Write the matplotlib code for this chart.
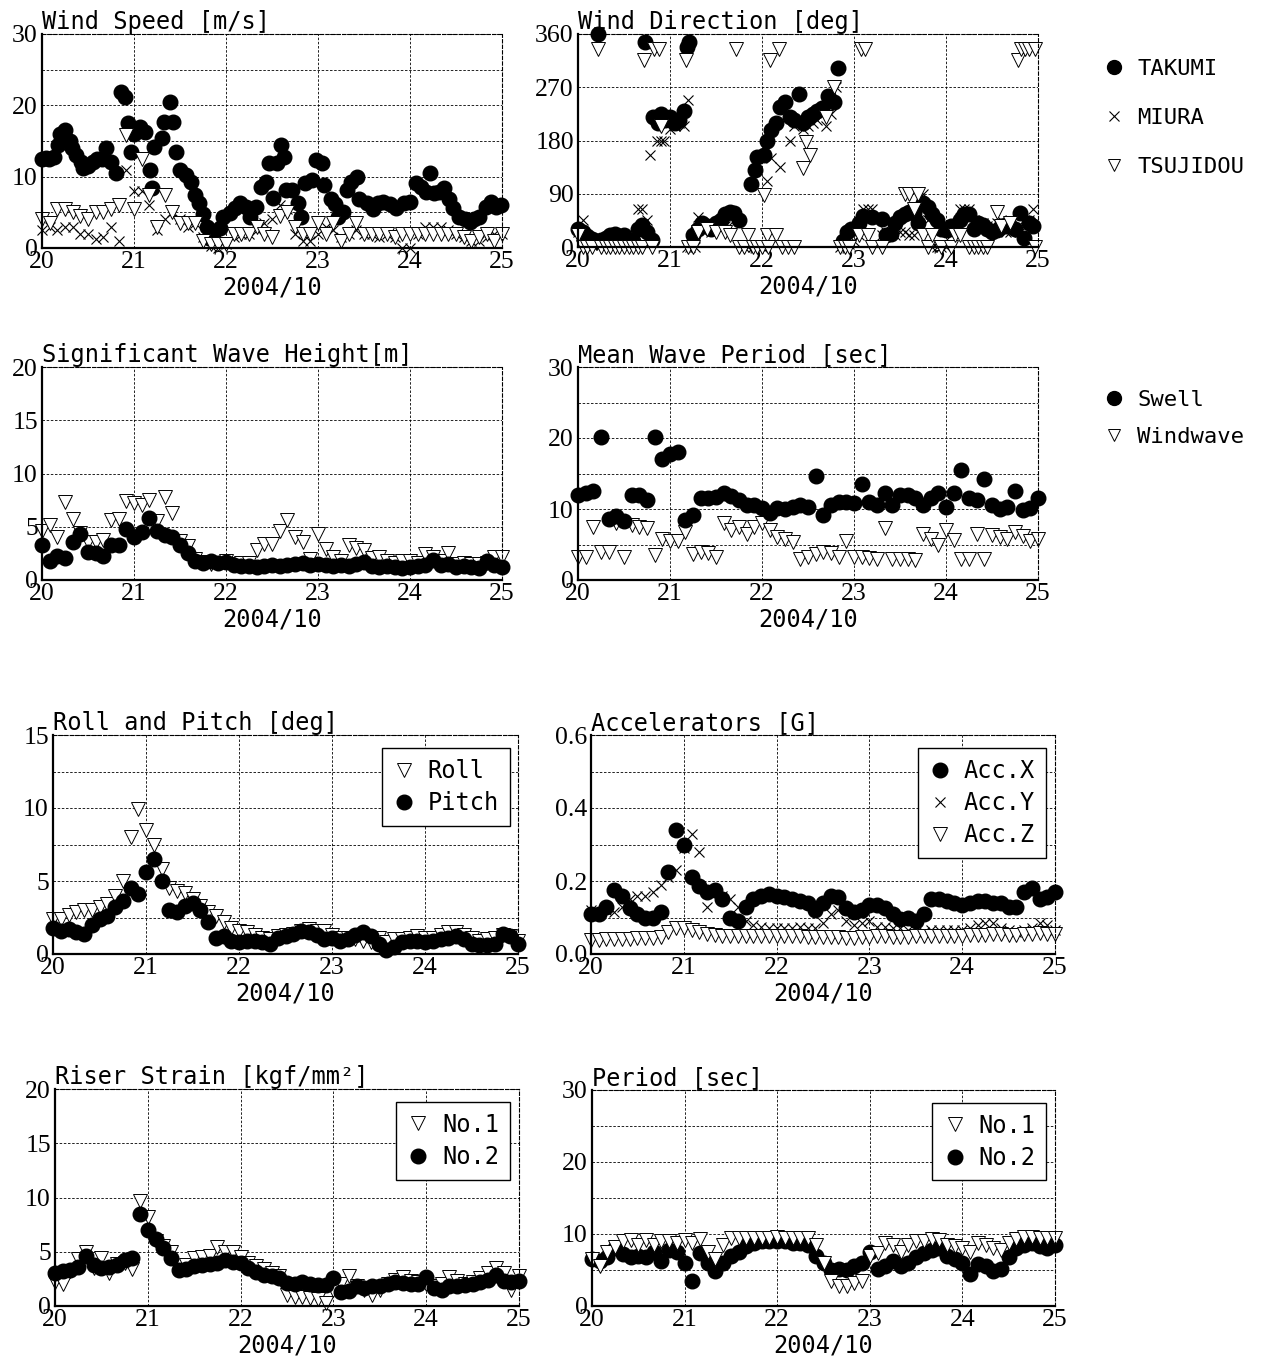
"""Ocean / mooring monitoring panels, 2004/10/20-25"""
import numpy as np
import matplotlib
matplotlib.use('Agg')
import matplotlib.pyplot as plt
from matplotlib.lines import Line2D
from matplotlib.ticker import FormatStrFormatter

plt.rcParams['font.family'] = ['Liberation Serif', 'DejaVu Serif']
MONO = 'DejaVu Sans Mono'
W, H = 1263, 1360

# time grid, every 2 hours (day of month)
t2 = 20 + np.arange(61) / 12

# ---- Wind speed [m/s]
ws_takumi_t = [20.0, 20.04, 20.08, 20.13, 20.17, 20.2, 20.25, 20.3, 20.33, 20.37, 20.42, 20.45, 20.5,
               20.55, 20.6, 20.65, 20.7, 20.75, 20.8, 20.86, 20.9, 20.93, 20.97, 21.0, 21.06, 21.12,
               21.17, 21.2, 21.22, 21.3, 21.33, 21.39, 21.42, 21.46, 21.5, 21.57, 21.62, 21.66, 21.71,
               21.75, 21.79, 21.82, 21.86, 21.93, 21.97, 22.04, 22.1, 22.15, 22.22, 22.26, 22.33, 22.38,
               22.44, 22.47, 22.51, 22.55, 22.6, 22.63, 22.65, 22.72, 22.78, 22.82, 22.86, 22.93, 22.98,
               23.04, 23.07, 23.14, 23.18, 23.22, 23.27, 23.31, 23.36, 23.42, 23.45, 23.53, 23.6, 23.65,
               23.71, 23.78, 23.85, 23.93, 24.0, 24.07, 24.12, 24.17, 24.22, 24.26, 24.31, 24.37, 24.42,
               24.47, 24.53, 24.6, 24.65, 24.7, 24.75, 24.83, 24.88, 24.94, 24.99]
ws_takumi = [12.5, 12.6, 12.5, 12.7, 14.5, 16, 16.5, 15, 14, 13, 12, 11.2, 11.5, 12, 12.5, 12.5, 14, 12,
             10.5, 21.8, 21.2, 17.5, 13.5, 16, 17, 16.3, 11, 8.4, 14.2, 15.4, 17.7, 20.5, 17.7, 13.5, 11,
             10.2, 9.3, 7.5, 6.3, 4.7, 3, 1.4, 1.9, 2.8, 4.4, 4.9, 5.6, 6.3, 5.8, 4.4, 5.8, 8.6, 9.3, 11.9,
             7, 11.9, 14.4, 12.8, 8.2, 8.2, 6.3, 4.4, 9.1, 9.5, 12.3, 11.9, 8.8, 6.8, 6.1, 4.4, 5.1, 8.2,
             9.3, 10, 6.8, 6.3, 5.4, 6.3, 6.5, 6.1, 5.6, 6.3, 6.5, 9.1, 8.6, 7.9, 10.5, 7.7, 7.9, 8.4, 6.8,
             5.6, 4.4, 4, 3.7, 4, 4.4, 5.8, 6.5, 5.8, 6]
ws_miura = [2.5, 3, 2.5, 3, 3, 2, 2, 1.2, 1.5, 3, 1, 11, 8, 8, 6, 2.5, 4, 5, 4, 3,
            3.5, 1.5, 0.3, 0, 0.5, 1.5, 2, 2, 2.5, 3.5, 4, 6, 5.5, 2, 1, 1, 2, 3, 2.5, 1.5,
            2, 2.5, 2, 2, 1.5, 2, 1.5, 0, 0, 2, 3, 3, 3, 2.5, 2, 1.5, 1, 1, 1.5, 2, 2]
ws_tsujidou = [4, 3.5, 5.5, 5.5, 5, 4.5, 4, 5, 5, 5.5, 6, 15.8, 5.5, 12.5, 7.5, 3, 7.5, 5, 3.5, 3.5,
               3.5, 1, 0.5, 0.5, 0.5, 2, 2, 2, 3, 2, 1.5, 4.5, 5, 3, 2, 2, 3.5, 2, 3.5, 1,
               2, 3.5, 2, 2, 2, 2, 1.5, 2, 2, 2, 2, 2, 2, 2, 2, 1.5, 1, 1.5, 2, 1, 2]

# ---- Wind direction [deg], (day, deg)
wd_takumi = [(20.0, 30), (20.05, 25), (20.1, 18), (20.15, 13), (20.2, 10), (20.25, 12), (20.3, 15),
             (20.35, 20), (20.4, 22), (20.45, 18), (20.5, 20), (20.55, 12), (20.6, 10), (20.65, 30),
             (20.7, 38), (20.75, 25), (20.8, 12), (20.22, 360), (20.73, 346), (20.82, 220), (20.87, 210),
             (20.9, 225), (20.95, 215), (21.0, 220), (21.05, 210), (21.1, 215), (21.15, 230),
             (21.18, 338), (21.21, 346), (21.25, 20), (21.3, 30), (21.35, 40), (21.4, 35), (21.45, 30),
             (21.5, 40), (21.55, 45), (21.6, 55), (21.65, 60), (21.7, 58), (21.75, 45), (21.88, 107),
             (21.92, 130), (21.95, 152), (22.02, 155), (22.05, 180), (22.1, 198), (22.15, 209),
             (22.2, 237), (22.25, 245), (22.3, 220), (22.35, 215), (22.4, 259), (22.45, 210), (22.5, 220),
             (22.55, 225), (22.6, 230), (22.65, 235), (22.72, 255), (22.78, 245), (22.83, 302),
             (22.88, 10), (22.92, 25), (22.97, 30), (23.05, 40), (23.1, 52), (23.2, 50), (23.3, 48),
             (23.35, 20), (23.4, 22), (23.45, 40), (23.5, 50), (23.55, 55), (23.6, 60), (23.65, 58),
             (23.7, 40), (23.75, 75), (23.8, 68), (23.85, 55), (23.9, 45), (23.95, 30), (24.0, 28),
             (24.05, 35), (24.1, 30), (24.15, 45), (24.2, 55), (24.25, 55), (24.3, 30), (24.35, 40),
             (24.4, 38), (24.45, 30), (24.5, 25), (24.55, 28), (24.6, 35), (24.65, 35), (24.7, 35),
             (24.75, 30), (24.8, 57), (24.85, 15), (24.9, 40), (24.95, 35)]
wd_miura = [(20.0, 25), (20.05, 45), (20.1, 5), (20.15, 3), (20.2, 5), (20.25, 3), (20.3, 2), (20.35, 3),
            (20.4, 5), (20.45, 3), (20.5, 2), (20.55, 3), (20.6, 5), (20.65, 65), (20.7, 65), (20.75, 45),
            (20.78, 155), (20.86, 180), (20.9, 180), (20.93, 180), (21.0, 200), (21.05, 205),
            (21.1, 210), (21.15, 205), (21.2, 248), (21.18, 0), (21.22, 0), (21.27, 0), (21.3, 50),
            (21.35, 35), (21.4, 30), (21.45, 25), (21.5, 40), (21.55, 30), (21.6, 35), (21.65, 60),
            (21.7, 45), (21.8, 0), (21.85, 0), (21.9, 0), (21.95, 0), (22.0, 0), (22.05, 112),
            (22.1, 150), (22.2, 135), (22.3, 180), (22.35, 205), (22.45, 200), (22.5, 205), (22.55, 210),
            (22.6, 215), (22.7, 205), (22.75, 225), (22.8, 270), (22.85, 0), (22.95, 5), (23.0, 10),
            (23.05, 20), (23.1, 65), (23.15, 65), (23.2, 65), (23.25, 50), (23.3, 20), (23.35, 25),
            (23.4, 40), (23.45, 20), (23.5, 25), (23.55, 25), (23.6, 20), (23.65, 20), (23.7, 45),
            (23.75, 90), (23.8, 45), (23.85, 0), (23.9, 0), (23.95, 0), (24.0, 0), (24.05, 20),
            (24.1, 25), (24.15, 65), (24.2, 65), (24.25, 65), (24.3, 45), (24.35, 30), (24.4, 40),
            (24.45, 35), (24.5, 30), (24.55, 40), (24.6, 45), (24.65, 25), (24.7, 25), (24.75, 30),
            (24.8, 25), (24.85, 45), (24.9, 45), (24.95, 65)]
wd_tsujidou = [(20.0, 20), (20.05, 0), (20.1, 0), (20.15, 0), (20.22, 335), (20.25, 0), (20.3, 0),
               (20.35, 0), (20.4, 0), (20.45, 0), (20.5, 0), (20.55, 0), (20.6, 0), (20.65, 0),
               (20.72, 316), (20.7, 0), (20.8, 0), (20.83, 335), (20.88, 335), (20.9, 205), (21.17, 316),
               (21.2, 0), (21.25, 0), (21.3, 25), (21.4, 30), (21.5, 25), (21.6, 25), (21.65, 20),
               (21.72, 335), (21.75, 0), (21.8, 0), (21.85, 20), (21.9, 0), (21.95, 0), (22.0, 0),
               (22.02, 88), (22.05, 20), (22.07, 0), (22.09, 316), (22.15, 20), (22.18, 335), (22.22, 0),
               (22.28, 0), (22.35, 0), (22.45, 133), (22.48, 178), (22.52, 155), (22.7, 220), (22.78, 270),
               (22.85, 0), (22.9, 0), (22.95, 0), (23.05, 20), (23.08, 335), (23.12, 335), (23.15, 20),
               (23.2, 0), (23.3, 0), (23.55, 90), (23.6, 90), (23.65, 65), (23.7, 90), (23.75, 20),
               (23.8, 0), (23.85, 20), (23.95, 0), (24.05, 0), (24.1, 20), (24.15, 20), (24.25, 0),
               (24.3, 0), (24.35, 0), (24.4, 0), (24.45, 0), (24.55, 60), (24.6, 35), (24.7, 40),
               (24.78, 316), (24.82, 335), (24.86, 335), (24.9, 335), (24.97, 335), (24.97, 0)]

# ---- Significant wave height [m]
swh_swell = [3.3, 1.8, 2.3, 2.1, 3.6, 4.3, 2.6, 2.5, 2.3, 3.3, 3.3, 4.8, 4.0, 4.5, 5.8, 4.6, 4.2, 4.0,
             3.3, 2.5, 1.8, 1.6, 1.8, 1.6, 1.7, 1.4, 1.3, 1.3, 1.2, 1.3, 1.4, 1.3, 1.4, 1.5, 1.6, 1.4,
             1.5, 1.4, 1.3, 1.4, 1.3, 1.5, 1.7, 1.3, 1.2, 1.3, 1.2, 1.1, 1.2, 1.3, 1.4, 1.9, 1.4, 1.5,
             1.2, 1.3, 1.2, 1.1, 1.8, 1.4, 1.2]
swh_windwave = [4.6, 5.2, 4.0, 7.3, 5.7, 4.4, 3.6, 3.6, 3.8, 5.6, 5.7, 7.4, 7.2, 7.0, 7.5, 5.5, 7.8, 6.3,
                3.7, 3.2, 2.0, 1.7, 1.5, 1.6, 1.8, 1.5, 1.6, 1.6, 2.8, 3.4, 3.4, 4.6, 5.6, 4.0, 3.6, 2.0,
                4.3, 2.9, 2.2, 1.8, 3.3, 3.0, 2.8, 2.1, 2.2, 1.8, 1.6, 1.8, 1.8, 1.6, 2.4, 2.2, 1.8, 2.5,
                1.5, 1.6, 1.5, 1.5, 1.6, 2.2, 2.2]

# ---- Mean wave period [sec]
mwp_swell = [12, 12.2, 12.5, 20.2, 8.6, 9.0, 8.3, 12, 12, 11.2, 20.2, 17, 17.8, 18, 8.5, 9.2, 11.5,
             11.6, 11.7, 12.3, 11.8, 11.2, 10.5, 10.6, 10.2, 9.5, 10.2, 10, 10.3, 10.5, 10.3, 14.7, 9.2,
             10.5, 11, 11, 10.8, 13.5, 11, 10.5, 12.3, 10.5, 12, 12, 11.5, 10.5, 11.5, 12.2, 10.3, 12.2,
             15.5, 11.5, 11.3, 14.2, 10.5, 10, 10.3, 12.5, 9.8, 10.2, 11.5]
mwp_windwave = [3.2, 3.3, 7.5, 4.0, 4.0, 8.0, 3.2, 7.8, 7.5, 7.3, 3.5, 5.8, 5.5, 5.5, 6.8, 3.6, 4.0, 3.8,
                3.3, 8.0, 7.0, 7.5, 6.5, 7.5, 8.0, 7.0, 6.0, 5.8, 5.3, 3.0, 3.2, 3.6, 4.0, 3.8, 3.3, 5.5,
                3.2, 3.3, 3.1, 3.0, 7.3, 3.0, 3.0, 2.9, 2.8, 6.5, 5.8, 5.0, 7.0, 5.6, 3.0, 3.0, 6.5, 3.0,
                6.3, 6.0, 5.8, 6.8, 6.2, 5.5, 5.8]

# ---- Roll and pitch [deg]
roll = [2.4, 2.4, 2.7, 2.9, 3.0, 3.0, 3.2, 3.4, 4.0, 5.0, 8.0, 9.9, 8.5, 7.5, 5.8, 4.5, 4.3, 4.2, 3.8,
        3.3, 2.9, 2.6, 2.2, 1.8, 1.6, 1.5, 1.3, 1.1, 1.0, 1.2, 1.3, 1.4, 1.6, 1.7, 1.6, 1.6, 1.3, 1.1,
        1.1, 1.0, 0.9, 0.8, 1.1, 0.8, 1.0, 1.0, 1.1, 1.2, 1.1, 1.1, 1.3, 1.5, 1.5, 1.3, 1.1, 0.9, 1.0,
        1.1, 1.3, 1.2, 0.9]
pitch = [1.8, 1.6, 1.7, 1.5, 1.4, 2.0, 2.4, 2.6, 3.2, 3.6, 4.5, 4.1, 5.6, 6.5, 5.0, 3.0, 2.9, 3.3, 3.5,
         3.0, 2.2, 1.1, 1.2, 0.9, 0.8, 0.9, 0.9, 0.8, 0.7, 1.1, 1.2, 1.4, 1.6, 1.5, 1.3, 1.0, 1.1, 0.9,
         1.0, 1.3, 1.5, 1.2, 0.7, 0.3, 0.5, 0.8, 0.9, 0.9, 0.8, 0.9, 1.0, 1.1, 1.2, 1.0, 0.7, 0.6, 0.6,
         0.7, 1.4, 1.2, 0.7]

# ---- Accelerations [G]
acc_x = [0.11, 0.11, 0.13, 0.175, 0.16, 0.125, 0.11, 0.10, 0.10, 0.115, 0.225, 0.34, 0.30, 0.21, 0.185,
         0.17, 0.175, 0.15, 0.10, 0.09, 0.13, 0.15, 0.16, 0.165, 0.16, 0.155, 0.15, 0.145, 0.14, 0.12,
         0.14, 0.16, 0.155, 0.125, 0.115, 0.12, 0.135, 0.135, 0.125, 0.11, 0.095, 0.10, 0.09, 0.11,
         0.15, 0.15, 0.145, 0.14, 0.135, 0.14, 0.145, 0.145, 0.14, 0.14, 0.13, 0.13, 0.17, 0.18, 0.15,
         0.155, 0.17]
acc_y = [0.12, 0.115, 0.12, 0.115, 0.13, 0.15, 0.16, 0.16, 0.17, 0.19, 0.21, 0.23, 0.29, 0.33, 0.28,
         0.13, 0.17, 0.16, 0.15, 0.13, 0.09, 0.08, 0.075, 0.07, 0.07, 0.07, 0.07, 0.075, 0.07, 0.07,
         0.085, 0.11, 0.12, 0.09, 0.08, 0.085, 0.09, 0.075, 0.075, 0.07, 0.07, 0.065, 0.065, 0.06,
         0.065, 0.065, 0.065, 0.065, 0.065, 0.07, 0.08, 0.085, 0.085, 0.07, 0.065, 0.06, 0.065, 0.07,
         0.085, 0.08, 0.065]
acc_z = [0.038, 0.038, 0.04, 0.04, 0.042, 0.042, 0.043, 0.044, 0.045, 0.047, 0.06, 0.07, 0.07, 0.065,
         0.06, 0.055, 0.052, 0.05, 0.05, 0.049, 0.05, 0.05, 0.05, 0.05, 0.049, 0.048, 0.048, 0.048,
         0.047, 0.047, 0.046, 0.046, 0.046, 0.045, 0.045, 0.046, 0.047, 0.048, 0.048, 0.047, 0.046,
         0.047, 0.048, 0.049, 0.05, 0.05, 0.05, 0.05, 0.05, 0.051, 0.052, 0.053, 0.054, 0.054, 0.053,
         0.052, 0.055, 0.056, 0.057, 0.056, 0.054]

# ---- Riser strain [kgf/mm2]
strain_1 = [2.2, 2.0, 3.2, 4.3, 5.0, 3.5, 4.4, 3.0, 3.9, 4.0, 3.4, 9.7, 8.2, 6.0, 5.5, 5.0, 3.3, 3.8,
            4.4, 4.5, 4.6, 5.4, 5.0, 5.0, 4.5, 4.0, 3.7, 3.4, 3.0, 2.8, 1.0, 0.8, 0.8, 0.7, 0.6, 0.3,
            1.5, 2.0, 2.8, 1.8, 1.5, 1.0, 1.5, 2.0, 2.4, 2.7, 2.3, 2.2, 2.0, 1.8, 2.0, 2.7, 2.3, 2.0,
            2.2, 2.6, 3.0, 3.5, 3.0, 1.5, 2.8]
strain_2 = [3.0, 3.2, 3.3, 3.6, 4.6, 3.8, 3.5, 3.6, 3.8, 4.2, 4.4, 8.5, 7.0, 6.2, 5.3, 4.4, 3.3, 3.4,
            3.7, 3.8, 3.9, 4.0, 4.2, 4.1, 4.0, 3.5, 3.1, 2.9, 2.8, 2.6, 2.1, 2.0, 2.2, 2.0, 1.9, 1.9,
            2.6, 1.3, 1.4, 1.8, 1.7, 1.8, 1.8, 2.0, 2.2, 2.1, 2.0, 2.0, 2.7, 1.7, 1.5, 1.8, 1.8, 1.9,
            2.0, 2.2, 2.4, 2.9, 2.3, 2.2, 2.3]

# ---- Strain period [sec]
period_1 = [6.5, 5.5, 7.5, 8.2, 9.0, 9.2, 8.5, 9.2, 8.5, 9.0, 9.0, 8.8, 9.2, 8.8, 9.3, 7.5, 6.5, 8.5,
            9.4, 9.4, 9.4, 9.5, 9.5, 9.5, 9.6, 9.5, 9.5, 9.4, 9.4, 8.5, 6.0, 3.5, 2.8, 2.8, 3.2, 3.5,
            7.0, 7.3, 8.8, 8.5, 7.5, 8.5, 9.0, 9.0, 9.3, 9.2, 8.5, 8.3, 8.0, 7.5, 8.8, 8.5, 8.0, 7.8,
            8.8, 9.3, 9.6, 9.6, 9.5, 9.4, 9.5]
period_2 = [6.5, 6.3, 6.8, 8.0, 7.2, 6.8, 7.0, 6.8, 7.5, 6.3, 7.8, 7.5, 6.0, 3.5, 7.3, 6.0, 4.8, 6.0,
            7.0, 7.5, 8.3, 8.8, 9.0, 9.0, 9.0, 9.0, 8.8, 8.7, 8.5, 7.0, 6.0, 5.0, 5.2, 5.0, 5.5, 6.0,
            7.5, 5.2, 5.5, 6.3, 5.5, 6.0, 6.8, 7.3, 7.8, 8.0, 7.0, 6.5, 6.0, 4.5, 5.8, 5.5, 4.8, 5.2,
            6.8, 8.0, 8.5, 8.8, 8.3, 8.0, 8.5]

days = [20, 21, 22, 23, 24, 25]


def px_rect(left, top, right, bottom):
    return [left / W, 1 - bottom / H, (right - left) / W, (bottom - top) / H]


def setup(ax, title, ymax, ylab_step, ygrid_step, fmt='%d'):
    ax.set_xlim(20, 25)
    ax.set_ylim(0, ymax)
    ax.set_xticks(days)
    ax.set_yticks(np.arange(0, ymax + ylab_step / 2, ylab_step))
    ax.set_yticks(np.arange(0, ymax + ygrid_step / 2, ygrid_step), minor=True)
    ax.yaxis.set_major_formatter(FormatStrFormatter(fmt))
    ax.tick_params(which='both', length=0, labelsize=18.5)
    ax.tick_params(axis='x', pad=2)
    ax.tick_params(axis='y', pad=3)
    ax.grid(True, which='both', color='k', ls=(0, (3, 2)), lw=0.6)
    ax.set_axisbelow(True)
    for s in ['left', 'bottom']:
        ax.spines[s].set_linewidth(1.6)
    for s in ['top', 'right']:
        ax.spines[s].set_linewidth(0.8)
        ax.spines[s].set_linestyle((0, (3, 2)))
    ax.set_title(title, loc='left', family=MONO, fontsize=17, pad=2)
    ax.set_xlabel('2004/10', family=MONO, fontsize=17, labelpad=2)


def dots(ax, x, y, kind):
    if kind == 'o':
        return ax.plot(x, y, ls='none', marker='o', ms=10.5, mfc='k', mec='k', clip_on=False)[0]
    if kind == 'v':
        return ax.plot(x, y, ls='none', marker='v', ms=10.5, mfc='white', mec='k', mew=0.7,
                       clip_on=False)[0]
    return ax.plot(x, y, ls='none', marker='x', ms=7.5, mec='k', mew=0.8, clip_on=False)[0]


def box_legend(ax, handles, labels, anchor):
    leg = ax.legend(handles, labels, loc='upper right', bbox_to_anchor=anchor, borderaxespad=0,
                    prop={'family': MONO, 'size': 17}, fancybox=False, framealpha=1,
                    edgecolor='k', handlelength=1.0, handletextpad=0.5, labelspacing=0.35,
                    borderpad=0.45)
    leg.get_frame().set_linewidth(1.0)
    return leg


fig = plt.figure(figsize=(W / 100, H / 100), dpi=100)

# Wind speed
ax1 = fig.add_axes(px_rect(42, 34, 502, 248))
setup(ax1, 'Wind Speed [m/s]', 30, 10, 5)
dots(ax1, ws_takumi_t, ws_takumi, 'o')
dots(ax1, t2, ws_miura, 'x')
dots(ax1, t2, ws_tsujidou, 'v')

# Wind direction
ax2 = fig.add_axes(px_rect(578, 34, 1038, 247))
setup(ax2, 'Wind Direction [deg]', 360, 90, 90)
for series, kind in [(wd_takumi, 'o'), (wd_miura, 'x'), (wd_tsujidou, 'v')]:
    xs, ys = zip(*series)
    dots(ax2, xs, ys, kind)

# Significant wave height
ax3 = fig.add_axes(px_rect(42, 367, 502, 580))
setup(ax3, 'Significant Wave Height[m]', 20, 5, 5)
dots(ax3, t2, swh_windwave, 'v')
dots(ax3, t2, swh_swell, 'o')

# Mean wave period
ax4 = fig.add_axes(px_rect(578, 367, 1038, 580))
setup(ax4, 'Mean Wave Period [sec]', 30, 10, 5)
dots(ax4, t2, mwp_windwave, 'v')
dots(ax4, t2, mwp_swell, 'o')

# Roll and pitch
ax5 = fig.add_axes(px_rect(53, 735, 518, 954))
setup(ax5, 'Roll and Pitch [deg]', 15, 5, 2.5)
h_roll = dots(ax5, t2, roll, 'v')
h_pitch = dots(ax5, t2, pitch, 'o')
box_legend(ax5, [h_roll, h_pitch], ['Roll', 'Pitch'], (0.982, 0.94))

# Accelerations
ax6 = fig.add_axes(px_rect(591, 735, 1055, 954))
setup(ax6, 'Accelerators [G]', 0.6, 0.2, 0.1, fmt='%.1f')
h_x = dots(ax6, t2, acc_x, 'o')
h_y = dots(ax6, t2, acc_y, 'x')
h_z = dots(ax6, t2, acc_z, 'v')
box_legend(ax6, [h_x, h_y, h_z], ['Acc.X', 'Acc.Y', 'Acc.Z'], (0.98, 0.94))

# Riser strain
ax7 = fig.add_axes(px_rect(55, 1089, 519, 1306))
setup(ax7, 'Riser Strain [kgf/mm²]', 20, 5, 5)
h_s1 = dots(ax7, t2, strain_1, 'v')
h_s2 = dots(ax7, t2, strain_2, 'o')
box_legend(ax7, [h_s1, h_s2], ['No.1', 'No.2'], (0.98, 0.94))

# Period
ax8 = fig.add_axes(px_rect(592, 1090, 1055, 1306))
setup(ax8, 'Period [sec]', 30, 10, 5)
h_p2 = dots(ax8, t2, period_2, 'o')
h_p1 = dots(ax8, t2, period_1, 'v')
box_legend(ax8, [h_p1, h_p2], ['No.1', 'No.2'], (0.98, 0.94))

# station legend (right column)
st_handles = [Line2D([], [], ls='none', marker='o', ms=10, mfc='k', mec='k'),
              Line2D([], [], ls='none', marker='x', ms=7, mec='k', mew=0.8),
              Line2D([], [], ls='none', marker='v', ms=8.5, mfc='white', mec='k', mew=0.7)]
fig.legend(st_handles, ['TAKUMI', 'MIURA', 'TSUJIDOU'], loc='upper left',
           bbox_to_anchor=(1103 / W, 1 - 59 / H), frameon=False,
           prop={'family': MONO, 'size': 16}, handlelength=1.0, handletextpad=0.55,
           labelspacing=1.3, borderpad=0, borderaxespad=0)

wave_handles = [Line2D([], [], ls='none', marker='o', ms=10, mfc='k', mec='k'),
                Line2D([], [], ls='none', marker='v', ms=8.5, mfc='white', mec='k', mew=0.7)]
fig.legend(wave_handles, ['Swell', 'Windwave'], loc='upper left',
           bbox_to_anchor=(1103 / W, 1 - 390 / H), frameon=False,
           prop={'family': MONO, 'size': 16}, handlelength=1.0, handletextpad=0.55,
           labelspacing=0.75, borderpad=0, borderaxespad=0)

fig.savefig('out.png', dpi=100)
